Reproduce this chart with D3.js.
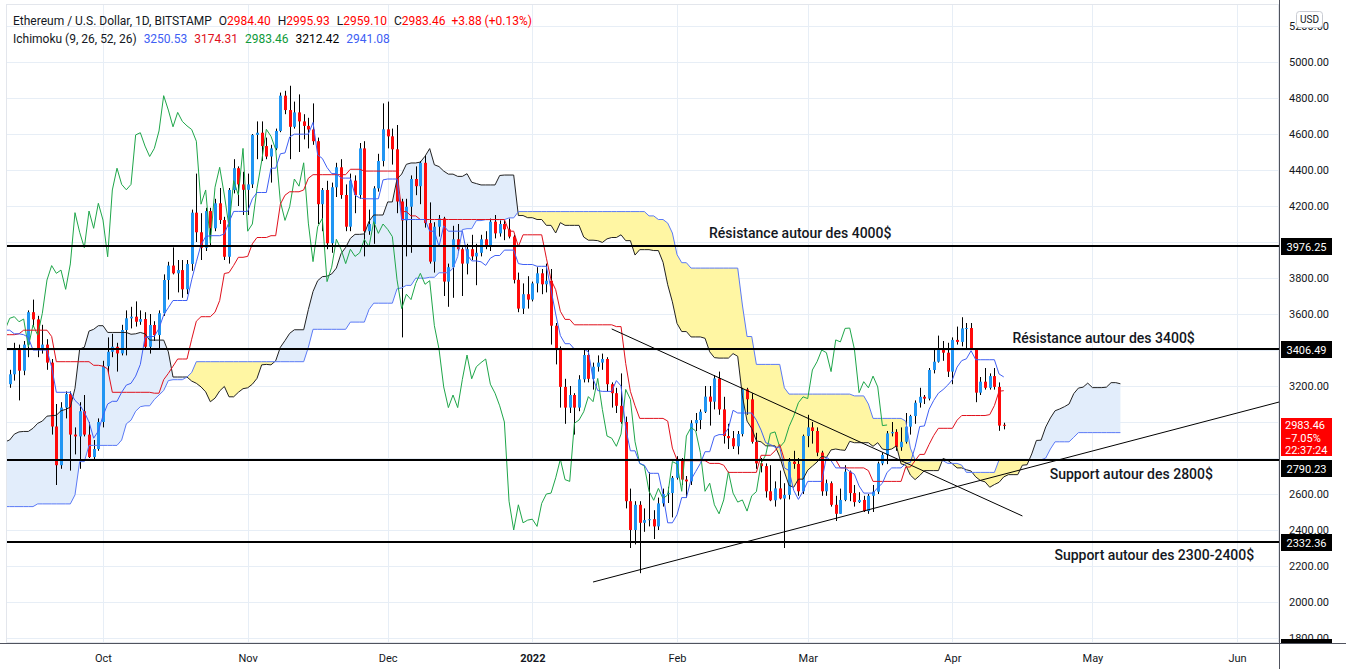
<!DOCTYPE html>
<html>
<head>
<meta charset="utf-8">
<script src="https://cdn.jsdelivr.net/npm/d3@7"></script>
<style>
body { margin: 0; background: #fff; }
svg { display: block; font-family: Roboto, "Liberation Sans", sans-serif; }
</style>
</head>
<body>
<svg id="chart" width="1346" height="669"></svg>
<script>
// ETH/USD daily candles (Bitstamp), one array per month, rows = [open, high, low, close]
// jun21..aug21 sit left of the visible window, they only feed the ichimoku lines
var jun21 = [ // from Jun 20
	[2180,2280,2050,2250],[2250,2260,1870,1890],[1890,2010,1700,1875],[1875,2040,1860,1970],
	[1970,2040,1900,1990],[1990,2010,1800,1810],[1810,1880,1720,1830],[1830,1990,1800,1980],
	[1980,2130,1950,1970],[1970,2200,1960,2090],[2090,2290,2060,2275]
];
var jul21 = [
	[2275,2280,2090,2110],[2110,2160,2050,2150],[2150,2240,2120,2225],[2225,2390,2190,2320],
	[2320,2320,2170,2200],[2200,2350,2190,2325],[2325,2410,2300,2315],[2315,2320,2090,2115],
	[2115,2190,2050,2150],[2150,2190,2080,2140],[2140,2170,2110,2140],[2140,2160,2010,2035],
	[2035,2050,1940,1940],[1940,2010,1900,1995],[1995,2030,1880,1915],[1915,1960,1860,1880],
	[1880,1940,1860,1900],[1900,1990,1860,1895],[1895,1900,1800,1820],[1820,1830,1720,1790],
	[1790,2020,1780,1995],[1995,2040,1960,2030],[2030,2130,2000,2125],[2125,2200,2100,2185],
	[2185,2190,2150,2190],[2190,2420,2190,2230],[2230,2320,2160,2300],[2300,2350,2230,2300],
	[2300,2400,2280,2385],[2385,2470,2330,2460],[2460,2550,2440,2535]
];
var aug21 = [
	[2535,2700,2530,2555],[2555,2660,2550,2610],[2610,2630,2450,2505],[2505,2740,2480,2725],
	[2725,2840,2530,2825],[2825,2950,2750,2890],[2890,3180,2880,3155],[3155,3190,2970,3010],
	[3010,3180,2920,3160],[3160,3230,3060,3140],[3140,3270,3130,3165],[3165,3230,2980,3045],
	[3045,3330,3030,3320],[3320,3330,3180,3265],[3265,3330,3120,3310],[3310,3340,3140,3150],
	[3150,3290,2990,3010],[3010,3110,2950,3015],[3015,3190,2960,3180],[3180,3300,3160,3290],
	[3290,3290,3180,3225],[3225,3270,3110,3240],[3240,3370,3230,3320],[3320,3360,3140,3170],
	[3170,3250,3110,3225],[3225,3250,3060,3100],[3100,3280,3070,3270],[3270,3290,3210,3245],
	[3245,3330,3160,3225],[3225,3340,3150,3230],[3230,3470,3160,3430]
];
var sep21 = [
	[3430,3840,3390,3830],[3830,3840,3720,3790],[3790,4020,3720,3940],[3940,3970,3830,3890],
	[3890,3980,3840,3950],[3950,3970,3840,3930],[3930,3940,3000,3430],[3430,3560,3350,3495],
	[3495,3550,3400,3430],[3430,3520,3180,3210],[3210,3290,3190,3265],[3265,3440,3230,3410],
	[3410,3430,3120,3285],[3285,3450,3260,3430],[3430,3620,3360,3610],[3610,3680,3530,3570],
	[3570,3590,3360,3400],[3400,3540,3380,3430],[3430,3460,3290,3330],[3330,3350,2930,2975],
	[2975,3100,2650,2760],[2760,3110,2740,3080],[3080,3170,3020,3155],[3155,3170,2730,2930],
	[2930,2970,2820,2920],[2920,3110,2740,3060],[3060,3150,2920,2930],[2930,3000,2800,2805],
	[2805,2900,2790,2850],[2850,3020,2840,3000]
];
var oct21 = [
	[3000,3340,2970,3310],[3310,3470,3270,3390],[3390,3490,3360,3418],[3418,3440,3280,3381],
	[3381,3540,3370,3511],[3511,3620,3370,3576],[3576,3640,3520,3585],[3585,3670,3530,3557],
	[3557,3620,3540,3572],[3572,3610,3400,3418],[3418,3600,3380,3539],[3539,3560,3450,3483],
	[3483,3620,3400,3604],[3604,3820,3590,3789],[3789,3890,3680,3869],[3869,3970,3820,3826],
	[3826,3900,3720,3844],[3844,3900,3690,3737],[3737,3900,3710,3878],[3878,4180,3840,4163],
	[4163,4380,4000,4054],[4054,4160,3900,3968],[3968,4190,3950,4172],[4172,4190,3980,4076],
	[4076,4240,4060,4215],[4215,4300,4100,4122],[4122,4140,3900,3918],[3918,4300,3880,4289],
	[4289,4460,4270,4410],[4410,4420,4200,4320],[4320,4390,4150,4290]
];
var nov21 = [
	[4290,4380,4150,4320],[4320,4600,4300,4595],[4595,4670,4460,4607],[4607,4670,4450,4533],
	[4533,4580,4460,4475],[4475,4540,4330,4520],[4520,4630,4510,4617],[4617,4830,4610,4813],
	[4813,4840,4710,4733],[4733,4868,4460,4640],[4640,4780,4630,4720],[4720,4820,4500,4670],
	[4670,4710,4570,4645],[4645,4690,4520,4625],[4625,4770,4540,4560],[4560,4580,4100,4210],
	[4210,4300,4060,4289],[4289,4340,3960,3993],[3993,4330,3940,4304],[4304,4440,4250,4415],
	[4415,4460,4240,4261],[4261,4320,4060,4085],[4085,4380,4060,4341],[4341,4370,4160,4261],
	[4261,4550,4240,4520],[4520,4560,3920,4060],[4060,4180,4040,4100],[4100,4310,3990,4298],
	[4298,4490,4280,4450],[4450,4770,4420,4626]
];
var dec21 = [
	[4626,4780,4520,4587],[4587,4630,4430,4515],[4515,4650,4160,4225],[4225,4240,3470,4120],
	[4120,4240,3920,4196],[4196,4370,3940,4350],[4350,4420,4260,4310],[4310,4450,4210,4440],
	[4440,4480,4080,4105],[4105,4220,3880,3891],[3891,4110,3830,4085],[4085,4150,4030,4131],
	[4131,4140,3700,3780],[3780,3880,3640,3860],[3860,4090,3690,4015],[4015,4100,3950,3960],
	[3960,3970,3700,3880],[3880,3990,3820,3960],[3960,4040,3900,3920],[3920,3990,3760,3940],
	[3940,4040,3920,4015],[4015,4060,3960,3974],[3974,4130,3950,4113],[4113,4150,4020,4048],
	[4048,4120,4030,4100],[4100,4120,4010,4070],[4070,4130,4020,4030],[4030,4040,3770,3790],
	[3790,3830,3610,3630],[3630,3770,3600,3710],[3710,3810,3630,3680]
];
var jan22 = [
	[3680,3780,3670,3770],[3770,3860,3720,3826],[3826,3850,3710,3765],[3765,3880,3720,3785],
	[3785,3850,3430,3535],[3535,3550,3320,3405],[3405,3420,3080,3195],[3195,3240,2990,3080],
	[3080,3200,3050,3150],[3150,3160,2930,3080],[3080,3260,3060,3237],[3237,3410,3220,3372],
	[3372,3410,3220,3240],[3240,3330,3180,3307],[3307,3370,3280,3330],[3330,3380,3290,3350],
	[3350,3360,3170,3210],[3210,3220,3080,3160],[3160,3190,3050,3090],[3090,3270,2990,3000],
	[3000,3030,2520,2560],[2560,2630,2300,2400],[2400,2560,2320,2540],[2540,2560,2160,2440],
	[2440,2520,2390,2455],[2455,2720,2420,2460],[2460,2510,2350,2420],[2420,2580,2400,2548],
	[2548,2630,2530,2600],[2600,2640,2550,2605],[2605,2700,2470,2690]
];
var feb22 = [
	[2690,2810,2680,2793],[2793,2800,2650,2680],[2680,2700,2580,2670],[2670,3010,2650,2993],
	[2993,3050,2950,3011],[3011,3070,2960,3057],[3057,3200,3050,3141],[3141,3200,2980,3113],
	[3113,3260,3070,3242],[3242,3280,3040,3070],[3070,3140,2880,2922],[2922,2990,2850,2910],
	[2910,2950,2850,2865],[2865,2950,2820,2933],[2933,3190,2920,3181],[3181,3190,3040,3126],
	[3126,3160,2880,2890],[2890,2940,2740,2770],[2770,2800,2720,2755],[2755,2770,2580,2615],
	[2615,2760,2560,2565],[2565,2670,2530,2631],[2631,2730,2570,2575],[2575,2660,2300,2595],
	[2595,2800,2570,2780],[2780,2840,2740,2767],[2767,2800,2590,2615],[2615,2930,2600,2922]
];
var mar22 = [
	[2922,3040,2860,2970],[2970,3000,2880,2950],[2950,2970,2810,2830],[2830,2840,2590,2615],
	[2615,2680,2590,2660],[2660,2670,2530,2540],[2540,2590,2450,2490],[2490,2630,2490,2567],
	[2567,2760,2560,2724],[2724,2730,2560,2605],[2605,2650,2530,2555],[2555,2610,2550,2567],
	[2567,2590,2500,2505],[2505,2600,2490,2590],[2590,2650,2500,2613],[2613,2780,2600,2770],
	[2770,2830,2760,2817],[2817,2950,2766,2937],[2937,3000,2920,2945],[2945,2960,2840,2860],
	[2860,2970,2840,2890],[2890,3050,2880,2974],[2974,3040,2930,3033],[3033,3120,2990,3107],
	[3107,3190,3080,3140],[3140,3150,3100,3130],[3130,3300,3120,3289],[3289,3400,3270,3335],
	[3335,3480,3330,3400],[3400,3450,3340,3385],[3385,3440,3250,3280]
];
var apr22 = [
	[3280,3470,3210,3456],[3456,3530,3430,3445],[3445,3582,3420,3520],[3520,3550,3400,3522],
	[3522,3550,3400,3405],[3405,3410,3110,3163],[3163,3250,3150,3224],[3224,3300,3180,3190],
	[3190,3270,3180,3255],[3255,3300,3180,3195],[3195,3220,2951,2980],[2984.40,2995.93,2959.10,2983.46]
];
var monthStarts = ["2021-06-20","2021-07-01","2021-08-01","2021-09-01","2021-10-01","2021-11-01",
	"2021-12-01","2022-01-01","2022-02-01","2022-03-01","2022-04-01"];
var monthRows = [jun21, jul21, aug21, sep21, oct21, nov21, dec21, jan22, feb22, mar22, apr22];

// horizontal levels drawn on the chart and their notes
var levels = [3976.25, 3406.49, 2790.23, 2332.36];
var levelNotes = ["Résistance autour des 4000$", "Résistance autour des 3400$",
	"Support autour des 2800$", "Support autour des 2300-2400$"];
// trend lines, [date, price] at both ends
var trendLines = [
	[["2022-01-18", 3517], ["2022-04-16", 2478]],
	[["2022-01-14", 2111], ["2022-06-10", 3111]]
];
// axis prices (the ones fully under the level labels are left out, as on the screen)
var priceTicks = [1800,2000,2200,2400,2600,3200,3600,3800,4000,4200,4400,4600,4800,5000,5200];
var gridPrices = [1800,2000,2200,2400,2600,2800,3000,3200,3400,3600,3800,4000,4200,4400,4600,4800,5000,5200];
var monthTicks = ["2021-10-01","2021-11-01","2021-12-01","2022-01-01","2022-02-01","2022-03-01","2022-04-01","2022-05-01","2022-06-01"];
var monthNames = ["Oct","Nov","Dec","2022","Feb","Mar","Apr","May","Jun"];

// ichimoku settings and legend
var ichiPeriods = [9, 26, 52, 26];
var legendOhlc = [["O","2984.40"],["H","2995.93"],["L","2959.10"],["C","2983.46"]];
var legendIchi = ["3250.53","3174.31","2983.46","3212.42","2941.08"];
var lastPrice = 2983.46;
var lastLabel = ["2983.46", "\u22127.05%", "22:37:24"];

var W = 1346, H = 669;
var pane = {left: 7, right: 1279, top: 5, bottom: 643};
var col = {
	up: "#2196f3", down: "#ff0a0a", wick: "#000",
	tenkan: "#4060f4", kijun: "#e0101c", chikou: "#1fa64a", leadA: "#222", leadB: "#5b7af6",
	cloudUp: "#e2edfb", cloudDown: "#fff6a3", grid: "#e7eef6", text: "#131722"
};

var parse = d3.utcParse("%Y-%m-%d");
var svg = d3.select("#chart");

// flatten month arrays into dated bars
var bars = [];
monthRows.forEach(function(rows, m){
	var start = parse(monthStarts[m]);
	rows.forEach(function(r, i){
		bars.push({date: d3.utcDay.offset(start, i), o: r[0], h: r[1], l: r[2], c: r[3]});
	});
});

// ichimoku values
function midRange(i, n){
	if(i < n - 1){ return null; }
	var s = bars.slice(i - n + 1, i + 1);
	return (d3.max(s, function(d){ return d.h; }) + d3.min(s, function(d){ return d.l; })) / 2;
}
var shift = ichiPeriods[3] - 1;
bars.forEach(function(d, i){
	d.tenkan = midRange(i, ichiPeriods[0]);
	d.kijun = midRange(i, ichiPeriods[1]);
	d.spanB = midRange(i, ichiPeriods[2]);
	d.spanA = (d.tenkan != null && d.kijun != null) ? (d.tenkan + d.kijun) / 2 : null;
});
var lead = bars.filter(function(d){ return d.spanA != null && d.spanB != null; })
	.map(function(d){ return {date: d3.utcDay.offset(d.date, shift), a: d.spanA, b: d.spanB}; });
var lagging = bars.map(function(d){ return {date: d3.utcDay.offset(d.date, -shift), v: d.c}; });

// add crossing points so the two cloud colours meet cleanly
var cloud = [];
lead.forEach(function(p, i){
	if(i > 0){
		var q = lead[i - 1], dq = q.a - q.b, dp = p.a - p.b;
		if(dq * dp < 0){
			var t = dq / (dq - dp);
			var v = q.a + t * (p.a - q.a);
			cloud.push({date: new Date(+q.date + t * (p.date - q.date)), a: v, b: v});
		}
	}
	cloud.push(p);
});

// scales
var oct1 = Date.UTC(2021, 9, 1), dayMs = 864e5;
var x = d3.scaleUtc()
	.domain([new Date(oct1 - 20.57 * dayMs), new Date(oct1 + 251.98 * dayMs)])
	.range([pane.left, pane.right]);
var y = d3.scaleLinear().domain([1800, 5200]).range([638, 26]);

svg.append("rect").attr("width", W).attr("height", H).attr("fill", "#fff");

svg.append("defs").append("clipPath").attr("id", "paneClip")
	.append("rect").attr("x", pane.left).attr("y", 0)
	.attr("width", pane.right - pane.left).attr("height", pane.bottom);

// grid
var grid = svg.append("g");
grid.selectAll(".hg").data(gridPrices).enter().append("line")
	.attr("x1", pane.left).attr("x2", pane.right)
	.attr("y1", function(d){ return Math.round(y(d)) + 0.5; })
	.attr("y2", function(d){ return Math.round(y(d)) + 0.5; })
	.attr("stroke", col.grid);
grid.selectAll(".vg").data(monthTicks).enter().append("line")
	.attr("x1", function(d){ return Math.round(x(parse(d))) + 0.5; })
	.attr("x2", function(d){ return Math.round(x(parse(d))) + 0.5; })
	.attr("y1", pane.top).attr("y2", pane.bottom)
	.attr("stroke", col.grid);
grid.append("rect").attr("x", pane.left - 0.5).attr("y", pane.top - 0.5)
	.attr("width", pane.right - pane.left).attr("height", pane.bottom - pane.top)
	.attr("fill", "none").attr("stroke", "#e3e6ec");

var plot = svg.append("g").attr("clip-path", "url(#paneClip)");

// cloud
var cloudUp = d3.area()
	.x(function(d){ return x(d.date); })
	.y0(function(d){ return y(d.b); })
	.y1(function(d){ return y(Math.max(d.a, d.b)); });
var cloudDown = d3.area()
	.x(function(d){ return x(d.date); })
	.y0(function(d){ return y(d.b); })
	.y1(function(d){ return y(Math.min(d.a, d.b)); });
plot.append("path").datum(cloud).attr("d", cloudUp).attr("fill", col.cloudUp);
plot.append("path").datum(cloud).attr("d", cloudDown).attr("fill", col.cloudDown);

// candles
var cw = 3;
var candle = plot.append("g").selectAll("g").data(bars).enter().append("g");
candle.append("line")
	.attr("x1", function(d){ return Math.round(x(d.date)) + 0.5; })
	.attr("x2", function(d){ return Math.round(x(d.date)) + 0.5; })
	.attr("y1", function(d){ return y(d.h); })
	.attr("y2", function(d){ return y(d.l); })
	.attr("stroke", col.wick).attr("stroke-width", 1);
candle.append("rect")
	.attr("x", function(d){ return Math.round(x(d.date)) - 1; })
	.attr("width", cw)
	.attr("y", function(d){ return y(Math.max(d.o, d.c)); })
	.attr("height", function(d){ return Math.max(1, Math.abs(y(d.o) - y(d.c))); })
	.attr("fill", function(d){ return d.c >= d.o ? col.up : col.down; });

// ichimoku lines
function drawLine(data, key, color, width){
	var line = d3.line()
		.defined(function(d){ return d[key] != null; })
		.x(function(d){ return x(d.date); })
		.y(function(d){ return y(d[key]); });
	plot.append("path").datum(data).attr("d", line)
		.attr("fill", "none").attr("stroke", color).attr("stroke-width", width || 1);
}
drawLine(lead, "a", col.leadA, 1);
drawLine(lead, "b", col.leadB, 1);
drawLine(lagging, "v", col.chikou, 1);
drawLine(bars, "kijun", col.kijun, 1);
drawLine(bars, "tenkan", col.tenkan, 1);

// levels
plot.selectAll(".level").data(levels).enter().append("line")
	.attr("x1", pane.left).attr("x2", pane.right)
	.attr("y1", function(d){ return Math.round(y(d)); })
	.attr("y2", function(d){ return Math.round(y(d)); })
	.attr("stroke", "#000").attr("stroke-width", 2);

// trend lines
plot.selectAll(".trend").data(trendLines).enter().append("line")
	.attr("x1", function(d){ return x(parse(d[0][0])); })
	.attr("y1", function(d){ return y(d[0][1]); })
	.attr("x2", function(d){ return x(parse(d[1][0])); })
	.attr("y2", function(d){ return y(d[1][1]); })
	.attr("stroke", "#000").attr("stroke-width", 1);

// notes beside the levels
var notePos = [["2022-02-07", -8], ["2022-04-13", -6], ["2022-04-21", 19], ["2022-04-22", 18]];
svg.selectAll(".note").data(levelNotes).enter().append("text")
	.attr("x", function(d, i){ return x(parse(notePos[i][0])) + 4; })
	.attr("y", function(d, i){ return y(levels[i]) + notePos[i][1]; })
	.attr("font-size", 14).attr("font-weight", 500).attr("fill", col.text)
	.text(function(d){ return d; });

// right price axis
svg.append("rect").attr("x", pane.right).attr("y", 0).attr("width", W - pane.right).attr("height", H).attr("fill", "#fff");
var yAxis = svg.append("g").attr("transform", "translate(" + (pane.right + 8) + ",0)")
	.call(d3.axisRight(y).tickValues(priceTicks).tickFormat(d3.format(".2f")).tickSize(0));
yAxis.select(".domain").remove();
yAxis.selectAll("text").attr("x", 2).attr("font-size", 11).attr("fill", col.text)
	.attr("font-family", "Roboto, 'Liberation Sans', sans-serif");

svg.append("line").attr("x1", pane.right + 0.5).attr("x2", pane.right + 0.5)
	.attr("y1", 0).attr("y2", H).attr("stroke", "#50535e");
svg.append("line").attr("x1", 0).attr("x2", W)
	.attr("y1", pane.bottom + 0.5).attr("y2", pane.bottom + 0.5).attr("stroke", "#50535e");

// level labels on the axis
var lastY = y(lastPrice);
var labelY = levels.map(function(d){ return Math.round(y(d)) - 8; });
labelY[2] = Math.max(labelY[2], Math.round(lastY) - 7 + 38 + 4);
var lab = svg.selectAll(".lvlLab").data(levels).enter().append("g");
lab.append("rect").attr("x", pane.right + 2).attr("width", 51).attr("height", 17)
	.attr("y", function(d, i){ return labelY[i]; }).attr("fill", "#000");
lab.append("text").attr("x", pane.right + 27.5).attr("text-anchor", "middle")
	.attr("y", function(d, i){ return labelY[i] + 12.5; })
	.attr("font-size", 11).attr("fill", "#fff")
	.text(function(d){ return d3.format(".2f")(d); });

// bottom bit of a label below the visible range
svg.append("rect").attr("x", pane.right + 2).attr("y", 639).attr("width", 51).attr("height", 4).attr("fill", "#000");

// last price label
var lp = svg.append("g");
lp.append("rect").attr("x", pane.right + 2).attr("y", Math.round(lastY) - 7).attr("width", 51).attr("height", 38).attr("fill", "#ff0000");
lp.selectAll("text").data(lastLabel).enter().append("text")
	.attr("x", pane.right + 6).attr("y", function(d, i){ return Math.round(lastY) + 4 + i * 12.5; })
	.attr("font-size", 11).attr("fill", "#fff").text(function(d){ return d; });

// currency box
svg.append("rect").attr("x", 1296.5).attr("y", 11.5).attr("width", 26).attr("height", 16).attr("rx", 3)
	.attr("fill", "#fff").attr("stroke", "#c9ccd3");
svg.append("text").attr("x", 1309.5).attr("y", 23).attr("text-anchor", "middle")
	.attr("font-size", 10).attr("fill", col.text).text("USD");

// time axis
var xAxis = svg.append("g").attr("transform", "translate(0," + (pane.bottom + 8) + ")")
	.call(d3.axisBottom(x).tickValues(monthTicks.map(parse)).tickSize(0)
		.tickFormat(function(d, i){ return monthNames[i]; }));
xAxis.select(".domain").remove();
xAxis.selectAll("text").attr("font-size", 11).attr("fill", col.text)
	.attr("font-family", "Roboto, 'Liberation Sans', sans-serif")
	.attr("font-weight", function(d, i){ return monthNames[i] == "2022" ? 700 : 400; });

// legend
var lg1 = svg.append("text").attr("x", 13).attr("y", 25).attr("font-size", 12).attr("fill", col.text);
lg1.append("tspan").text("Ethereum / U.S. Dollar, 1D, BITSTAMP");
legendOhlc.forEach(function(p, i){
	lg1.append("tspan").attr("dx", 7).text(p[0]);
	lg1.append("tspan").attr("fill", "#ff0000").text(p[1]);
});
lg1.append("tspan").attr("dx", 6).attr("fill", "#ff0000").text("+3.88 (+0.13%)");

var ichiColors = [col.tenkan, col.kijun, "#0e9a3a", "#000", col.tenkan];
var lg2 = svg.append("text").attr("x", 13).attr("y", 43).attr("font-size", 12).attr("fill", col.text);
lg2.append("tspan").text("Ichimoku (" + ichiPeriods.join(", ") + ")");
legendIchi.forEach(function(v, i){
	lg2.append("tspan").attr("dx", 7).attr("fill", ichiColors[i]).text(v);
});
</script>
</body>
</html>
